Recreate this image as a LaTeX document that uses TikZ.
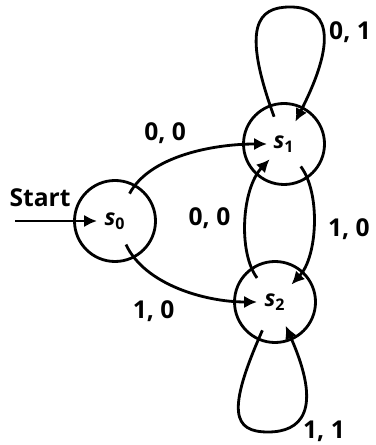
\documentclass[tikz,border=0pt]{standalone}
\usepackage{fontspec}
\setmainfont{Open Sans}
\usetikzlibrary{positioning,arrows.meta}

\begin{document}
\begin{tikzpicture}[
    st/.style={draw, circle, line width=1.6pt, minimum size=1.62cm, inner sep=0pt, font=\bfseries\fontsize{13}{15}\selectfont},
    tr/.style={line width=1.6pt, -{Latex[length=2.6mm,width=2.5mm]}},
    lbl/.style={font=\bfseries\fontsize{14}{16}\selectfont, inner sep=1pt},
    on grid]
            \useasboundingbox (0,0) rectangle (7.5,8.9);

            \node[st] at (2.3,4.48)                          (s0) {\textit{s}\textsubscript{0}};
            \node[st, above right=1.54cm and 3.38cm of s0]   (s1) {\textit{s}\textsubscript{1}};
            \node[st, below right=1.62cm and 3.2cm of s0]    (s2) {\textit{s}\textsubscript{2}};
            \coordinate[left=2cm of s0]                      (start);
            \coordinate[above right=2.74cm and 0.12cm of s1] (top1);
            \coordinate[below left=2.6cm and 0.14cm of s2]   (bot2);

            \draw[tr, shorten >=0.36cm] (start) -- node[lbl, above=0.22cm, pos=0.25] (lstart) {Start} (s0.center);
            \draw[tr, shorten <=0.62cm, shorten >=0.34cm] (s0.center) to[out=62,in=180] node[lbl, above=0.42cm, pos=0.38] (l00a) {0, 0} (s1.center);
            \draw[tr, shorten <=0.52cm, shorten >=0.36cm] (s0.center) to[out=-65,in=180] node[lbl, below=0.55cm, pos=0.33] (l10a) {1, 0} (s2.center);
            \draw[tr, shorten <=0.56cm, shorten >=0.48cm] (s1.center) to[bend left=40] node[lbl, right=0.32cm, pos=0.53] (l10b) {1, 0} (s2.center);
            \draw[tr, shorten <=0.6cm, shorten >=0.42cm] (s2.center) to[bend left=40] node[lbl, left=0.33cm, pos=0.52] (l00b) {0, 0} (s1.center);

            % self loops
            \draw[tr, shorten <=0.58cm, shorten >=0.5cm] (s1.center) .. controls +(110:2.5) and +(180:0.65) .. (top1)
                  .. controls +(0:0.7) and +(63:2.5) .. (s1.center);
            \draw[tr, shorten <=0.62cm, shorten >=0.52cm] (s2.center) .. controls +(-114:2.4) and +(180:0.7) .. (bot2)
                  .. controls +(0:0.65) and +(-66:2.4) .. (s2.center);
            \node[lbl, above right=2.24cm and 1.32cm of s1] (l01) {0, 1};
            \node[lbl, below right=2.58cm and 0.98cm of s2] (l11) {1, 1};
\end{tikzpicture}
\end{document}
